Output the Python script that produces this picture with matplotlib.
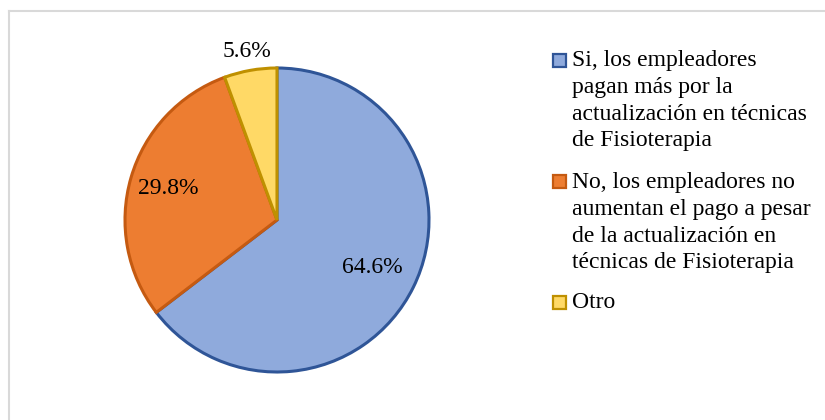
import numpy as np
import matplotlib
matplotlib.use("Agg")
import matplotlib.pyplot as plt
from matplotlib.patches import Rectangle
from matplotlib.lines import Line2D

# chart data
labels = [
    "Si, los empleadores\npagan más por la\nactualización en técnicas\nde Fisioterapia",
    "No, los empleadores no\naumentan el pago a pesar\nde la actualización en\ntécnicas de Fisioterapia",
    "Otro",
]
values = [64.6, 29.8, 5.6]
fill_colors = ["#8FAADC", "#ED7D31", "#FFD966"]
edge_colors = ["#2F5597", "#C55A11", "#BF9000"]
label_dist = [0.70, 0.745, 1.125]

W, H = 825, 420
FS = 17
plt.rcParams["font.family"] = ["Liberation Serif", "DejaVu Serif"]

fig = plt.figure(figsize=(W / 100, H / 100), dpi=100)

# pie: centre (277, 220) px, radius 152 px
cx, cy, R = 277, 220, 152
ax = fig.add_axes([(cx - R) / W, (H - cy - R) / H, 2 * R / W, 2 * R / H])
wedges, _ = ax.pie(values, colors=fill_colors, startangle=90, counterclock=False,
                   wedgeprops=dict(linewidth=2.2))
for w, ec in zip(wedges, edge_colors):
    w.set_edgecolor(ec)
    w.set_joinstyle("miter")
ax.set_xlim(-1, 1)
ax.set_ylim(-1, 1)
ax.axis("off")

for w, v, d in zip(wedges, values, label_dist):
    ang = np.deg2rad((w.theta1 + w.theta2) / 2)
    ax.text(d * np.cos(ang), d * np.sin(ang), f"{v:.1f}%",
            ha="center", va="center", fontsize=FS, color="black")

# legend drawn by hand so the square sits on the first line
leg_x, sq = 553, 13
line_y = [60, 182, 302]
for lab, fc, ec, y in zip(labels, fill_colors, edge_colors, line_y):
    fig.patches.append(Rectangle((leg_x / W, (H - y - sq / 2) / H), sq / W, sq / H,
                                 transform=fig.transFigure, facecolor=fc,
                                 edgecolor=ec, linewidth=1.6))
    fig.text(572 / W, (H - y + 10) / H, lab, ha="left", va="top",
             fontsize=FS, linespacing=1.36, color="black")

# light frame at the top and left edges
fig.add_artist(Line2D([9 / W, 9 / W], [0, 1 - 11 / H], transform=fig.transFigure,
                      color="#D9D9D9", linewidth=1.5))
fig.add_artist(Line2D([9 / W, 1], [1 - 11 / H, 1 - 11 / H], transform=fig.transFigure,
                      color="#D9D9D9", linewidth=1.5))

fig.savefig("out.png", dpi=100)
